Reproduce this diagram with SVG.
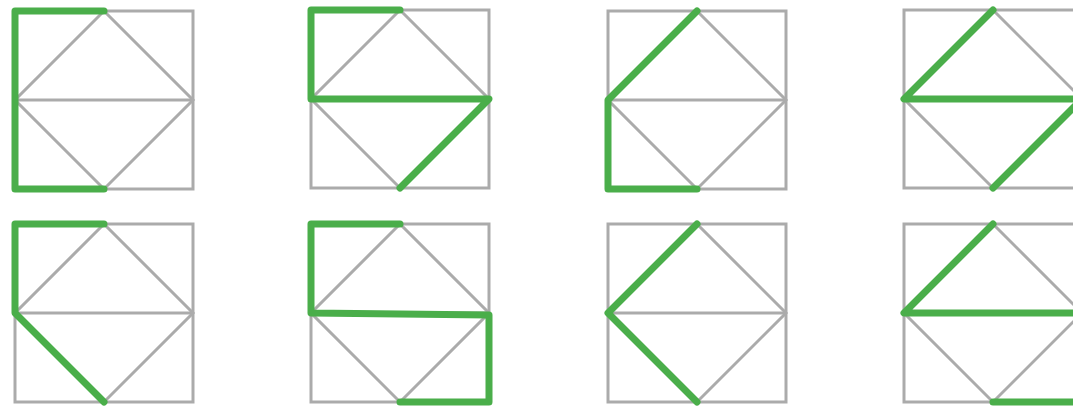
<svg xmlns="http://www.w3.org/2000/svg" xmlns:xlink="http://www.w3.org/1999/xlink" width="1073" height="407" viewBox="0 0 1073 407">
<style>
.base{fill:none;stroke:#ababab;stroke-width:3}
.path{fill:none;stroke:#4aae4a;stroke-width:7;stroke-linejoin:round;stroke-linecap:round}
</style>
<defs>
<g id="grid">
<rect class="base" x="0" y="0" width="178" height="178"/>
<line class="base" x1="0" y1="89" x2="178" y2="89"/>
<polygon class="base" points="89,0 178,89 89,178 0,89"/>
</g>
</defs>
<rect width="1073" height="407" fill="#ffffff"/>
<g id="fig1" transform="translate(15,11)">
<use xlink:href="#grid"/>
<polyline class="path" points="89,0 0,0 0,178 89,178"/>
</g>
<g id="fig2" transform="translate(311,10)">
<use xlink:href="#grid"/>
<polyline class="path" points="89,0 0,0 0,89 178,89 89,178"/>
</g>
<g id="fig3" transform="translate(608,11)">
<use xlink:href="#grid"/>
<polyline class="path" points="89,0 0,89 0,178 89,178"/>
</g>
<g id="fig4" transform="translate(904,10)">
<use xlink:href="#grid"/>
<polyline class="path" points="89,0 0,89 178,89 89,178"/>
</g>
<g id="fig5" transform="translate(15,224)">
<use xlink:href="#grid"/>
<polyline class="path" points="89,0 0,0 0,89 89,178"/>
</g>
<g id="fig6" transform="translate(311,224)">
<use xlink:href="#grid"/>
<polyline class="path" points="89,0 0,0 0,89 178,91 178,178 89,178"/>
</g>
<g id="fig7" transform="translate(608,224)">
<use xlink:href="#grid"/>
<polyline class="path" points="89,0 0,89 89,178"/>
</g>
<g id="fig8" transform="translate(904,224)">
<use xlink:href="#grid"/>
<polyline class="path" points="89,0 0,89 178,89 178,178 89,178"/>
</g>
<g id="connectors"/>
</svg>
